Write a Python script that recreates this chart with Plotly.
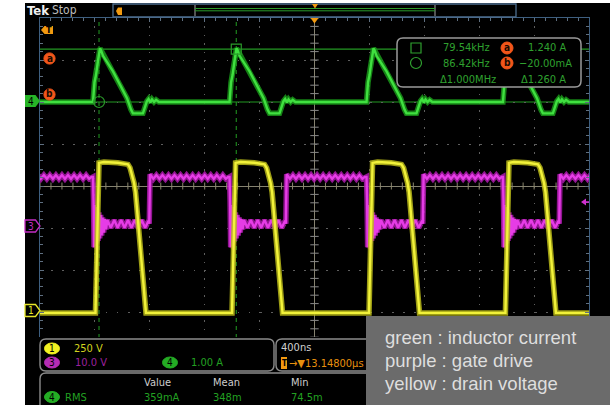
import numpy as np
import plotly.graph_objects as go

W, H = 610, 405

# ---------------- scope settings (from the on-screen readouts) ----------------
ns_per_div = 400
ch1_v_per_div = 250.0      # yellow : drain voltage
ch3_v_per_div = 10.0       # purple : gate drive
ch4_a_per_div = 1.0        # green  : inductor current
ch1_offset_div = -2.95
ch3_offset_div = -0.95
ch4_offset_div = 2.02

# gate falling edge of every switching cycle on screen, ns from trigger
cycle_edges_ns = [-2610, -1614, -619, 379, 1373]

# one switching cycle, ns after the gate falling edge
green_t_ns = [0, 11, 22, 36, 51, 58, 73, 146, 248, 277, 291, 364, 379, 393,
              405, 418, 430, 445, 460, 480, 985]
green_amps = [-0.02, 0.45, 0.62, 0.95, 1.26, 1.22, 1.08, 0.71, 0.07, -0.20,
              -0.29, -0.29, -0.12, 0.00, 0.05, -0.03, 0.04, -0.02, 0.03,
              -0.02, -0.02]

yellow_t_ns = [0, 18, 44, 80, 180, 255, 270, 285, 299, 310, 386, 985]
yellow_volts = [-18, -18, 875, 880, 876, 866, 846, 806, 757, 702, -18, -18]

purple_t_ns = [0, 4, 8, 12, 16, 21, 26, 31, 37, 43, 49, 56, 63, 70, 78, 86,
               95, 105, 130, 155, 180, 205, 230, 255, 280, 305, 330, 355, 380,
               405, 410, 416, 440, 462, 484, 506, 528, 550, 572, 594, 616,
               638, 660, 682, 704, 726, 748, 770, 792, 814, 836, 858, 880,
               902, 924, 946, 968, 985]
purple_volts = [11.67, 6.0, -5.0, 5.0, -4.8, 4.5, -4.2, 3.9, -3.6, 3.2, -3.0,
                2.6, -2.3, 2.0, -1.6, 1.6, -0.8, 1.4, -0.45, 1.4, -0.45, 1.4,
                -0.45, 1.4, -0.45, 1.4, -0.45, 1.4, -0.45, 1.2, 0.5, 12.3,
                11.2, 12.1, 11.2, 12.1, 11.2, 12.1, 11.2, 12.1, 11.2, 12.1,
                11.2, 12.1, 11.2, 12.1, 11.2, 12.1, 11.2, 12.1, 11.2, 12.1,
                11.2, 12.1, 11.2, 12.1, 11.2, 11.67]

# cursors
cursor_a_amps = 1.240
cursor_b_amps = -0.020
cursor_t1_ns = -1570
cursor_t2_ns = -570

# text readouts
readout_rows = [("79.54kHz", "a", "1.240 A"), ("86.42kHz", "b", "\u221220.00mA")]
readout_delta = ("\u03941.000MHz", "\u03941.260 A")
channel_labels = [("1", "250 V"), ("3", "10.0 V"), ("4", "1.00 A")]
timebase_label = "400ns"
trigger_delay_label = "\u2192\u25bc13.14800\u00b5s"
meas_headers = ["Value", "Mean", "Min"]
meas_values = ["359mA", "348m", "74.5m"]
legend_lines = ["green : inductor current", "purple : gate drive",
                "yellow : drain voltage"]

assert len(purple_t_ns) == len(purple_volts)
assert len(green_t_ns) == len(green_amps)
assert len(yellow_t_ns) == len(yellow_volts)


def build(shape_t, shape_v, scale, offset):
    t = np.concatenate([e + np.asarray(shape_t, float) for e in cycle_edges_ns])
    v = np.concatenate([np.asarray(shape_v, float) for _ in cycle_edges_ns])
    return t, v / scale + offset


g_t, g_y = build(green_t_ns, green_amps, ch4_a_per_div, ch4_offset_div)
y_t, y_y = build(yellow_t_ns, yellow_volts, ch1_v_per_div, ch1_offset_div)
p_t, p_y = build(purple_t_ns, purple_volts, ch3_v_per_div, ch3_offset_div)

SCOPE_FONT = "DejaVu Sans Condensed, Liberation Sans Narrow, Liberation Sans, sans-serif"
LEGEND_FONT = "Liberation Sans, Arial, sans-serif"
FS = 11  # scope text size

fig = go.Figure()

# graticule centre-line tick marks
fig.add_trace(go.Scatter(x=np.arange(-2000, 2001, 80), y=np.zeros(51), mode="markers",
                         marker=dict(symbol="line-ns", size=5, line=dict(color="#8a866e", width=1)),
                         hoverinfo="skip", showlegend=False))
fig.add_trace(go.Scatter(x=np.zeros(41), y=np.round(np.arange(-4, 4.001, 0.2), 2), mode="markers",
                         marker=dict(symbol="line-ew", size=6, line=dict(color="#8a8a8a", width=1)),
                         hoverinfo="skip", showlegend=False))


def add_channel(t, y, glow, core):
    fig.add_trace(go.Scatter(x=t, y=y, mode="lines", line=dict(color=glow, width=5.5),
                             hoverinfo="skip", showlegend=False))
    fig.add_trace(go.Scatter(x=t, y=y, mode="lines", line=dict(color=core, width=2.4),
                             hoverinfo="skip", showlegend=False))


add_channel(g_t, g_y, "rgba(25,150,25,0.85)", "#40e040")
add_channel(p_t, p_y, "rgba(170,25,170,0.85)", "#e63ce6")
add_channel(y_t, y_y, "rgba(185,185,25,0.85)", "#f2f23a")

# cursor markers
ya = cursor_a_amps / ch4_a_per_div + ch4_offset_div
yb = cursor_b_amps / ch4_a_per_div + ch4_offset_div
fig.add_trace(go.Scatter(x=[cursor_t2_ns], y=[ya], mode="markers",
                         marker=dict(symbol="square-open", size=10, color="#2a9a2a", line=dict(width=1.2)),
                         hoverinfo="skip", showlegend=False))
fig.add_trace(go.Scatter(x=[cursor_t1_ns], y=[yb], mode="markers",
                         marker=dict(symbol="circle-open", size=11, color="#2a9a2a", line=dict(width=1.2)),
                         hoverinfo="skip", showlegend=False))

shapes = []
annotations = []


def X(p):
    return p / W


def Y(p):
    return 1 - p / H


def add_rect(x0, y0, x1, y1, fill="rgba(0,0,0,0)", line=None, lw=1.0, layer="above"):
    shapes.append(dict(type="rect", xref="paper", yref="paper", x0=X(x0), x1=X(x1),
                       y0=Y(y1), y1=Y(y0), fillcolor=fill, layer=layer,
                       line=dict(color=line if line else "rgba(0,0,0,0)", width=lw if line else 0)))


def add_poly(points, fill="rgba(0,0,0,0)", line=None, lw=1.0, close=True, layer="above"):
    s = "M " + " L ".join(f"{X(x):.5f},{Y(y):.5f}" for x, y in points) + (" Z" if close else "")
    shapes.append(dict(type="path", xref="paper", yref="paper", path=s, fillcolor=fill, layer=layer,
                       line=dict(color=line if line else "rgba(0,0,0,0)", width=lw if line else 0)))


def add_line(x0, y0, x1, y1, color, width=1.0, dash=None, layer="above"):
    d = dict(type="line", xref="paper", yref="paper", x0=X(x0), x1=X(x1), y0=Y(y0), y1=Y(y1),
             line=dict(color=color, width=width), layer=layer)
    if dash:
        d["line"]["dash"] = dash
    shapes.append(d)


def add_rrect(x0, y0, x1, y1, r, fill, line, lw=1.3):
    pts = lambda a, b: f"{X(a):.5f},{Y(b):.5f}"
    s = (f"M {pts(x0 + r, y0)} L {pts(x1 - r, y0)} Q {pts(x1, y0)} {pts(x1, y0 + r)} "
         f"L {pts(x1, y1 - r)} Q {pts(x1, y1)} {pts(x1 - r, y1)} "
         f"L {pts(x0 + r, y1)} Q {pts(x0, y1)} {pts(x0, y1 - r)} "
         f"L {pts(x0, y0 + r)} Q {pts(x0, y0)} {pts(x0 + r, y0)} Z")
    shapes.append(dict(type="path", xref="paper", yref="paper", path=s, fillcolor=fill,
                       line=dict(color=line, width=lw), layer="above"))


def add_circle(cx, cy, rx, ry, fill, line=None, lw=1.0):
    shapes.append(dict(type="circle", xref="paper", yref="paper", x0=X(cx - rx), x1=X(cx + rx),
                       y0=Y(cy + ry), y1=Y(cy - ry), fillcolor=fill, layer="above",
                       line=dict(color=line if line else fill, width=lw)))


def add_text(x, y, s, color, size=FS, anchor="left", family=SCOPE_FONT, bold=False):
    if bold:
        s = f"<b>{s}</b>"
    annotations.append(dict(xref="paper", yref="paper", x=X(x), y=Y(y), text=s, showarrow=False,
                            xanchor=anchor, yanchor="middle", borderpad=0,
                            font=dict(color=color, size=size, family=family)))


# black screen (below everything)
add_rect(25, 3, 610, 405, fill="black", layer="below")

# cursors (data referenced)
shapes.append(dict(type="line", xref="x", yref="y", x0=-2000, x1=2000, y0=ya, y1=ya,
                   line=dict(color="#239823", width=1.1), layer="below"))
shapes.append(dict(type="line", xref="x", yref="y", x0=-2000, x1=2000, y0=yb, y1=yb,
                   line=dict(color="#239823", width=1.1), layer="below"))
for ct in (cursor_t1_ns, cursor_t2_ns):
    shapes.append(dict(type="line", xref="x", yref="y", x0=ct, x1=ct, y0=-4, y1=4,
                       line=dict(color="#1f8f1f", width=1.1, dash="4px,4px"), layer="below"))

# ---- top bar ----
add_text(25.5, 10, "Tek", "#f0f0f0", 13, bold=True)
add_text(51, 10.5, "Stop", "#bdbdbd", 12)
add_rect(113, 4, 516, 17, fill="black", line="#4d6e8e", lw=1.3)
add_line(195, 5, 195, 16, "#8a8a8a", 1.2)
add_line(435, 5, 435, 16, "#8a8a8a", 1.2)
add_line(195, 8.5, 435, 8.5, "#2a9a2a", 1)
add_line(195, 10.8, 435, 10.8, "#2a9a2a", 1)
add_poly([(116, 11), (118, 7.5), (122, 7.5), (122, 15), (118, 15)], fill="#f29a10")
add_poly([(312, 4), (318, 4), (315, 8.5)], fill="#f29a10")

# graticule top trigger-position marker
add_poly([(310.5, 18), (318.5, 18), (314.5, 23.5)], fill="#f29a10")

# left markers
add_poly([(41, 30), (44.5, 26), (53, 26), (53, 34), (44.5, 34)], fill="#f29a10")
add_text(48.7, 30.3, "T", "black", 9, anchor="center", bold=True)
for lab, cy in (("a", 58.5), ("b", 94.5)):
    add_circle(49.5, cy, 5.6, 5.6, "#f2561a")
    add_text(49.5, cy - 0.5, lab, "#1a0a00", 10, anchor="center", bold=True)

add_poly([(25, 95), (35.5, 95), (40, 101), (35.5, 107), (25, 107)], fill="#27b427")
add_text(31, 101.3, "4", "black", 10, anchor="center")
add_poly([(25, 220), (35.5, 220), (40, 226), (35.5, 232), (25, 232)], fill="black", line="#c32cc3", lw=1.3)
add_text(31, 226.3, "3", "#c32cc3", 10, anchor="center")
add_poly([(25, 304.5), (35.5, 304.5), (40, 310.5), (35.5, 316.5), (25, 316.5)], fill="black", line="#e6e62a", lw=1.3)
add_text(31, 310.8, "1", "#e6e62a", 10, anchor="center")

# right trigger level arrow
add_poly([(581, 202), (586, 198.5), (586, 205.5)], fill="#d030d0")
add_line(585, 202, 589, 202, "#d030d0", 1.5)

# ---- cursor readout box ----
add_rrect(397, 38, 581, 87, 6, "black", "#9a9a9a", 1.5)
RC = "#2fa02f"
add_rect(411, 43, 421, 53, line=RC, lw=1.2)
add_circle(416, 63, 5.5, 5.5, "rgba(0,0,0,0)", RC, 1.2)
for (freq, lab, val), cy in zip(readout_rows, (48, 63)):
    add_text(491, cy, freq, RC, FS, anchor="right")
    add_circle(507, cy, 6, 6, "#f2561a")
    add_text(507, cy - 0.5, lab, "#1a0a00", 10, anchor="center", bold=True)
    add_text(573 if lab == "b" else 567, cy, val, RC, FS, anchor="right")
add_text(497, 79, readout_delta[0], RC, FS, anchor="right")
add_text(567, 79, readout_delta[1], RC, FS, anchor="right")

# ---- bottom panels ----
add_rect(25, 337, 366, 405, fill="black")
add_rrect(40, 339, 274, 371, 6, "black", "#8c8c8c", 1.4)
add_rrect(276, 339, 385, 371, 6, "black", "#8c8c8c", 1.4)
add_rrect(40, 373, 385, 415, 6, "black", "#8c8c8c", 1.4)

chan_style = {"1": ("#f2f222", "#d2d21e", 52, 348.5, 73),
              "3": ("#b52cb5", "#9c209c", 52, 362.5, 74),
              "4": ("#24ac24", "#22a022", 170, 362.5, 190)}
for num, txt in channel_labels:
    fill, tcol, cx, cy, tx = chan_style[num]
    add_circle(cx, cy, 7.5, 5.5, fill)
    add_text(cx, cy + 0.3, num, "black", 10, anchor="center")
    add_text(tx, cy, txt, tcol, FS)

add_text(280, 347, timebase_label, "#d0d0d0", FS)
add_poly([(281, 357), (287, 357), (287, 369), (281, 369)], fill="#f29a10")
add_text(284, 363.3, "T", "black", 8, anchor="center", bold=True)
add_text(288, 363, trigger_delay_label, "#e8900e", FS)

add_circle(52, 397, 7.5, 5.5, "#24ac24")
add_text(52, 397.3, "4", "black", 10, anchor="center")
add_text(64, 397, "RMS", "#22a022", FS)
for hx, hd, vl in zip((143, 212, 290), meas_headers, meas_values):
    add_text(hx, 382, hd, "#cdcdcd", FS)
    add_text(hx, 397, vl, "#22a022", FS)

# ---- legend box ----
add_rect(366, 316, 610, 405, fill="#6b6b6b")
for ly, line_txt in zip((337, 360, 383), legend_lines):
    add_text(384, ly, line_txt, "#dedede", 18.5, family=LEGEND_FONT)

fig.update_layout(
    width=W, height=H, margin=dict(l=0, r=0, t=0, b=0),
    paper_bgcolor="white", plot_bgcolor="black",
    shapes=shapes, annotations=annotations, showlegend=False,
    xaxis=dict(range=[-2000, 2000], domain=[40 / W, 589 / W], dtick=ns_per_div, tick0=0,
               showgrid=True, gridcolor="#5e5e5e", gridwidth=1, griddash="1.5px,6.9px",
               zeroline=True, zerolinecolor="#858270", zerolinewidth=1,
               showline=True, linecolor="#3e5f80", linewidth=1.2, mirror="ticks",
               ticks="inside", ticklen=4, tickcolor="#5f6f80",
               minor=dict(dtick=ns_per_div / 5, ticks="inside", ticklen=3, tickcolor="#5f6f80", showgrid=False),
               showticklabels=False, fixedrange=True),
    yaxis=dict(range=[-4, 4], domain=[1 - 354 / H, 1 - 18 / H], dtick=1, tick0=0,
               showgrid=True, gridcolor="#5e5e5e", gridwidth=1, griddash="1.5px,9.5px",
               zeroline=True, zerolinecolor="#858270", zerolinewidth=1,
               showline=True, linecolor="#3e5f80", linewidth=1.2, mirror="ticks",
               ticks="inside", ticklen=4, tickcolor="#5f6f80",
               minor=dict(dtick=0.2, ticks="inside", ticklen=3, tickcolor="#5f6f80", showgrid=False),
               showticklabels=False, fixedrange=True),
)

fig.write_html("out.html", config={"displayModeBar": False},
               post_script="document.body.style.margin='0';document.body.style.padding='0';"
                           "document.body.style.overflow='hidden';")
